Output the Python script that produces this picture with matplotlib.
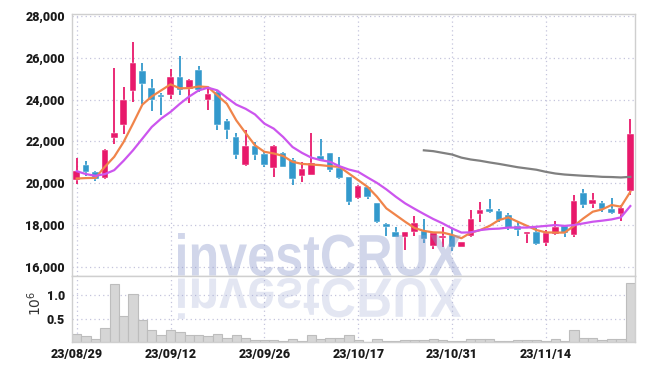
import numpy as np
import matplotlib.pyplot as plt
from matplotlib.textpath import TextPath
from matplotlib.patches import PathPatch
from matplotlib.font_manager import FontProperties
from matplotlib.transforms import Affine2D
from matplotlib.ticker import FuncFormatter

# daily OHLC (KRW), 60 trading days from 23/08/29
opens = [20170, 20860, 20510, 20250, 22160, 22800, 24420, 25350, 24570, 24230,
         24220, 25090, 24490, 25400, 23990, 24360, 22960, 22210, 20860, 21770,
         21380, 20730, 21460, 21100, 20350, 20410, 21290, 21460, 20730, 20270,
         19300, 19790, 19030, 18020, 17670, 17440, 17670, 17710, 16990, 17370,
         17500, 16960, 17480, 18520, 18760, 18660, 18470, 17950, 17550, 17670,
         17120, 17560, 17950, 17520, 19510, 19000, 19060, 18760, 18520, 19630]
highs = [21180, 21070, 20560, 21650, 25520, 24600, 26750, 25760, 25000, 24310,
         25480, 26110, 25000, 25630, 24600, 24390, 23090, 22400, 22530, 21970,
         21500, 21810, 21500, 21180, 21020, 22420, 22130, 21460, 21260, 20270,
         19920, 19820, 19060, 18070, 17910, 17640, 18420, 18260, 17670, 17880,
         17830, 17200, 18710, 19110, 19230, 18740, 18580, 18200, 17670, 17830,
         17750, 18200, 17990, 19430, 19740, 19510, 19150, 19270, 18950, 23090]
lows = [19980, 20360, 20110, 20220, 21890, 22370, 23870, 23800, 23440, 23280,
        24030, 24230, 23850, 24360, 23520, 22560, 22130, 21140, 20830, 21130,
        20780, 20300, 20750, 19930, 20030, 20380, 21070, 20540, 20220, 18950,
        19220, 19230, 18100, 17470, 17400, 16800, 17480, 17120, 16830, 16930,
        16770, 16930, 17440, 18120, 18550, 18150, 17750, 17480, 17120, 17050,
        17010, 17500, 17440, 17400, 18790, 18790, 18630, 18520, 18200, 19430]
closes = [20560, 20520, 20220, 21570, 22420, 23990, 25760, 24730, 23990, 24110,
          25090, 24470, 24950, 24440, 24250, 22770, 22530, 21340, 21770, 21340,
          20860, 21770, 20780, 20220, 20670, 20940, 21130, 20620, 20250, 19080,
          19860, 19350, 18150, 17880, 17440, 17640, 18070, 17340, 17630, 17470,
          16960, 17160, 18260, 18710, 18600, 18230, 17830, 17750, 17670, 17090,
          17630, 17880, 17590, 19140, 18950, 19190, 18740, 18580, 18800, 22370]

# moving averages as drawn
ma_short = [20220, 20240, 20250, 20780, 21260, 21970, 22850, 23760, 24150, 24440,
            24730, 24540, 24550, 24630, 24600, 24200, 23800, 23010, 22400, 21810,
            21500, 21420, 21300, 21020, 20920, 20890, 20860, 20810, 20780, 20460,
            20140, 19820, 19350, 18790, 18470, 18150, 17850, 17710, 17640, 17630,
            17520, 17360, 17630, 17750, 17950, 18230, 18360, 18150, 17950, 17750,
            17640, 17630, 17630, 17950, 18310, 18630, 18740, 18950, 18870, 19580]
ma_mid = [20570, 20430, 20350, 20430, 20620, 21070, 21570, 22130, 22690, 23090,
          23410, 23800, 24150, 24440, 24570, 24440, 24090, 23760, 23560, 23290,
          22850, 22610, 22210, 21730, 21450, 21220, 21100, 21020, 20810, 20650,
          20540, 20270, 20010, 19700, 19350, 19030, 18770, 18520, 18280, 18070,
          17830, 17630, 17640, 17750, 17800, 17820, 17870, 17870, 17870, 17910,
          17950, 17990, 17950, 17990, 18070, 18150, 18200, 18260, 18360, 18900]
ma_long = [21570, 21530, 21450, 21370, 21220, 21130, 21070, 20990, 20920, 20840,
           20760, 20700, 20640, 20540, 20460, 20410, 20380, 20350, 20330, 20300,
           20290, 20270, 20300]
ma_long_start = 37

# volume in millions of shares
volume = [0.18, 0.12, 0.07, 0.29, 1.23, 0.55, 1.02, 0.46, 0.26, 0.14,
          0.25, 0.22, 0.14, 0.14, 0.12, 0.18, 0.09, 0.16, 0.09, 0.05,
          0.05, 0.05, 0.03, 0.07, 0.03, 0.16, 0.07, 0.085, 0.085, 0.14,
          0.05, 0.01, 0.07, 0.02, 0.02, 0.05, 0.05, 0.035, 0.07, 0.035,
          0.02, 0.02, 0.07, 0.07, 0.07, 0.02, 0.02, 0.05, 0.05, 0.035,
          0.02, 0.07, 0.02, 0.25, 0.09, 0.09, 0.05, 0.07, 0.07, 1.27]

tick_idx = [0, 10, 20, 30, 40, 50]
tick_labels = ['23/08/29', '23/09/12', '23/09/26', '23/10/17', '23/10/31', '23/11/14']

UP = '#e8196b'
DOWN = '#3399cc'
GRID = '#c4c4dc'
tick_prop = FontProperties(family=['Roboto', 'DejaVu Sans'], weight='heavy', size=9)

o = np.array(opens)
h = np.array(highs)
l = np.array(lows)
c = np.array(closes)
x = np.arange(len(o))
colors = np.where(c >= o, UP, DOWN)

fig = plt.figure(figsize=(6.45, 3.7), dpi=100)
ax = fig.add_axes([72 / 645, 1 - 276 / 370, (635 - 72) / 645, (276 - 14) / 370])
axv = fig.add_axes([72 / 645, 1 - 342 / 370, (635 - 72) / 645, (342 - 276) / 370], sharex=ax)

# candles
ax.vlines(x, l, h, colors=colors, lw=1.3, zorder=2)
body_bottom = np.minimum(o, c)
body_h = np.maximum(np.abs(c - o), 60)
ax.bar(x, body_h, bottom=body_bottom, width=0.7, color=colors,
       edgecolor='white', linewidth=0.3, zorder=3)

ax.plot(x, ma_short, color='#f0844a', lw=1.6, zorder=4)
ax.plot(x, ma_mid, color='#cc55ee', lw=1.6, zorder=4)
ax.plot(x[ma_long_start:], ma_long, color='#808080', lw=1.6, zorder=4)

ax.set_xlim(-0.5, len(x) - 0.5)
ax.set_ylim(15550, 28100)
ax.set_yticks(np.arange(16000, 28001, 2000))
ax.yaxis.set_major_formatter(FuncFormatter(lambda v, p: f'{int(v):,}'))

# volume
axv.bar(x, volume, width=1.0, color='#d6d6d6', edgecolor='#bdbdbd', linewidth=0.8, zorder=2)
axv.set_ylim(0, 1.41)
axv.set_yticks([0.5, 1.0])
axv.set_yticklabels(['0.5', '1.0'])
axv.set_ylabel('$10^{6}$', fontsize=10, color='#333333')
axv.yaxis.set_label_coords(-0.05, 0.58)
axv.set_xticks(tick_idx)
axv.set_xticklabels(tick_labels)

for a in (ax, axv):
    a.grid(True, ls=(0, (1, 2.5)), color=GRID, lw=0.9, zorder=0)
    a.set_axisbelow(True)
    for s in a.spines.values():
        s.set_color('#cfcfcf')
        s.set_linewidth(1.0)
    a.tick_params(length=0, pad=5)
    for t in a.get_yticklabels() + a.get_xticklabels():
        t.set_fontproperties(tick_prop)
        t.set_color('#1a1a1a')
ax.tick_params(labelbottom=False)
axv.tick_params(axis='x', pad=4)

# watermark and its reflection, placed in pixel coords
wm_prop = FontProperties(family=['Liberation Sans', 'DejaVu Sans'], weight='bold')
wm_path = TextPath((0, 0), 'investCRUX', size=50, prop=wm_prop)
ext = wm_path.get_extents()
sx = (462 - 178) / ext.width
sy = (276 - 233) / ext.height
main_tr = Affine2D().translate(-ext.x0, -ext.y0).scale(sx, sy).translate(178, 370 - 276)
refl_tr = Affine2D().translate(-ext.x0, -ext.y0).scale(sx, -sy * 0.95).translate(178, 370 - 278)
fig.add_artist(PathPatch(wm_path, transform=main_tr, facecolor='#8c99cc',
                         edgecolor='none', alpha=0.40, zorder=10))
fig.add_artist(PathPatch(wm_path, transform=refl_tr, facecolor='#8c99cc',
                         edgecolor='none', alpha=0.24, zorder=10))

fig.savefig('out.png', dpi=100)
